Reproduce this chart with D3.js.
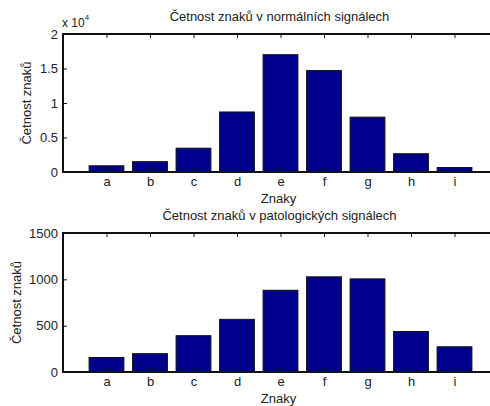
<!DOCTYPE html>
<html><head><meta charset="utf-8">
<script src="https://cdn.jsdelivr.net/npm/d3@7"></script>
<style>
body{margin:0;background:#fff;}
text{font-family:"Liberation Sans",Arial,sans-serif;fill:#222;}
</style></head>
<body>
<svg id="c" width="490" height="406"></svg>
<script>
const categories = ["a","b","c","d","e","f","g","h","i"];
const normalValues = [900, 1500, 3450, 8700, 17000, 14700, 7950, 2650, 650];
const pathoValues = [157, 198, 392, 568, 882, 1027, 1005, 437, 272];
const normalTicks = [0, 0.5, 1, 1.5, 2];
const pathoTicks = [0, 500, 1000, 1500];
const titles = ["Četnost znaků v normálních signálech", "Četnost znaků v patologických signálech"];
const yLabel = "Četnost znaků";
const xLabel = "Znaky";

const svg = d3.select("#c");
const L = 63, R = 498;
const FS = 13;

function panel(top, bottom, values, ticks, tickScale, title, ylabX, exp) {
  const g = svg.append("g");
  const x = d3.scaleLinear().domain([0, categories.length + 1]).range([L, R]);
  const ymax = ticks[ticks.length - 1] * tickScale;
  const y = d3.scaleLinear().domain([0, ymax]).range([bottom, top]);
  const bw = x(0.8) - x(0);
  g.selectAll("rect").data(values).join("rect")
    .attr("x", (d, i) => x(i + 1) - bw / 2)
    .attr("y", d => y(d))
    .attr("width", bw)
    .attr("height", d => y(0) - y(d))
    .attr("fill", "#00008c")
    .attr("stroke", "#111").attr("stroke-width", 1);
  const xb = d3.axisBottom(x).tickValues(categories.map((c, i) => i + 1))
    .tickFormat((d) => categories[d - 1]).tickSizeInner(-4).tickSizeOuter(0).tickPadding(5);
  const xt = d3.axisTop(x).tickValues(categories.map((c, i) => i + 1))
    .tickFormat("").tickSizeInner(-4).tickSizeOuter(0);
  const yl = d3.axisLeft(y).tickValues(ticks.map(t => t * tickScale))
    .tickFormat((d) => d3.format("")(+(d / tickScale).toFixed(2))).tickSizeInner(-4).tickSizeOuter(0).tickPadding(5);
  const gx = g.append("g").attr("transform", `translate(0,${bottom})`).call(xb);
  const gt = g.append("g").attr("transform", `translate(0,${top})`).call(xt);
  const gy = g.append("g").attr("transform", `translate(${L},0)`).call(yl);
  [gx, gt, gy].forEach(a => {
    a.select(".domain").attr("stroke", "#111").attr("stroke-width", 2);
    a.selectAll(".tick line").attr("stroke", "#111");
    a.selectAll("text").attr("font-size", FS).attr("font-family", "Liberation Sans, Arial, sans-serif").attr("fill", "#222");
  });
  gy.select(".domain").attr("d", `M0,${bottom + 1}V${top - 1}`);
  gx.select(".domain").attr("d", `M${L - 1},0H${R}`);
  gt.select(".domain").attr("d", `M${L - 1},0H${R}`);
  g.append("text").attr("x", (L + R) / 2 - 1).attr("y", top - 13).attr("text-anchor", "middle")
    .attr("font-size", FS).text(title);
  g.append("text").attr("transform", `translate(${ylabX},${(top + bottom) / 2}) rotate(-90)`)
    .attr("text-anchor", "middle").attr("font-size", FS).text(yLabel);
  g.append("text").attr("x", (L + R) / 2 - 2).attr("y", bottom + 31).attr("text-anchor", "middle")
    .attr("font-size", FS).text(xLabel);
  if (exp) {
    const t = g.append("text").attr("x", L - 1).attr("y", top - 7).attr("font-size", 12);
    t.append("tspan").text("x 10");
    t.append("tspan").attr("dy", -7).attr("font-size", 8).text(exp);
  }
}

panel(34, 172, normalValues, normalTicks, 1e4, titles[0], 31, "4");
panel(233, 372, pathoValues, pathoTicks, 1, titles[1], 21, null);
</script>
</body></html>
